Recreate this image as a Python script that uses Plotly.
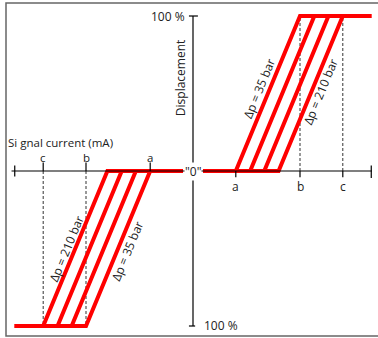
import plotly.graph_objects as go

# ---- data (schematic) ----
tick_names = ["a", "b", "c"]
tick_current = [2.0, 5.0, 7.0]          # signal current positions of a, b, c
start_current = [2.0, 2.67, 3.33, 4.0]  # current where displacement starts rising
full_current = [5.0, 5.67, 6.33, 7.0]   # current where displacement reaches 100 %
dp_labels = ["Δp = 35 bar", "", "", "Δp = 210 bar"]
x_dead = 0.47
x_end = 8.33
disp_full = 100

RED = "#ff0000"
TXT = "#222222"
FONT = "Open Sans"

fig = go.Figure()

# dashed reference lines at b and c
for xv in tick_current[1:]:
    fig.add_trace(go.Scatter(x=[xv, xv], y=[0, disp_full], mode="lines",
                             line=dict(color="#333333", width=1, dash="3px,2px"),
                             hoverinfo="skip", showlegend=False))
    fig.add_trace(go.Scatter(x=[-xv, -xv], y=[0, -disp_full], mode="lines",
                             line=dict(color="#333333", width=1, dash="3px,2px"),
                             hoverinfo="skip", showlegend=False))

# axes
axis_style = dict(color="#000000", width=1.2)
fig.add_shape(type="line", x0=-8.48, x1=8.36, y0=0, y1=0, line=axis_style)
fig.add_shape(type="line", x0=0, x1=0, y0=-disp_full, y1=disp_full, line=axis_style)
fig.add_shape(type="line", x0=-0.19, x1=0.23, y0=disp_full, y1=disp_full, line=axis_style)
fig.add_shape(type="line", x0=-0.19, x1=0.1, y0=-disp_full, y1=-disp_full, line=axis_style)
fig.add_shape(type="line", x0=-x_end, x1=-x_end, y0=-3.5, y1=3.5, line=axis_style)
fig.add_shape(type="line", x0=x_end, x1=x_end, y0=-4.5, y1=3.5, line=axis_style)
for xv in tick_current:
    fig.add_shape(type="line", x0=xv, x1=xv, y0=0, y1=-4.0, line=axis_style)
    fig.add_shape(type="line", x0=-xv, x1=-xv, y0=0, y1=5.5, line=axis_style)

# characteristic curves
for s, f in zip(start_current, full_current):
    fig.add_trace(go.Scatter(x=[x_dead, s, f, x_end], y=[0, 0, disp_full, disp_full],
                             mode="lines", line=dict(color=RED, width=4),
                             hoverinfo="skip", showlegend=False))
    fig.add_trace(go.Scatter(x=[-x_dead, -s, -f, -x_end], y=[0, 0, -disp_full, -disp_full],
                             mode="lines", line=dict(color=RED, width=4),
                             hoverinfo="skip", showlegend=False))

ann = []
def text(x, y, t, size=12, **kw):
    d = dict(x=x, y=y, text=t, showarrow=False, font=dict(family=FONT, size=size, color=TXT))
    d.update(kw)
    ann.append(d)

for n, xv in zip(tick_names, tick_current):
    text(xv, -9.7, n)
    text(-xv, 9.0, n, size=11.5)

text(0, 0, '"0"', bgcolor="white", borderpad=0)
text(-8.75, 18.6, "Si gnal current (mA)", size=11.5, xanchor="left")
text(-0.6, 60, "Displacement", textangle=-90)
text(-0.3, 99.5, "100 %", xanchor="right")
text(0.4, -99.5, "100 %", xanchor="left")

ang = -67.6
text(3.08, 53.5, dp_labels[0], textangle=ang)
text(5.98, 51, dp_labels[3], textangle=ang)
text(-5.89, -50.3, dp_labels[3], textangle=ang)
text(-3.04, -51.6, dp_labels[0], textangle=ang)

# outer frame
fig.add_shape(type="rect", xref="paper", yref="paper",
              x0=6 / 378, x1=1.02, y0=1 - 336 / 338, y1=1 - 3 / 338,
              line=dict(color="#666666", width=1.5))

fig.update_layout(
    width=378, height=338, margin=dict(l=0, r=0, t=0, b=0),
    paper_bgcolor="white", plot_bgcolor="white",
    annotations=ann, showlegend=False,
    xaxis=dict(range=[-193 / 21.4, 185 / 21.4], visible=False, fixedrange=True),
    yaxis=dict(range=[(171 - 338) / 1.55, 171 / 1.55], visible=False, fixedrange=True),
)

fig.write_html("out.html", config={"displayModeBar": False},
               post_script="document.body.style.margin='0';document.body.style.overflow='hidden';")
